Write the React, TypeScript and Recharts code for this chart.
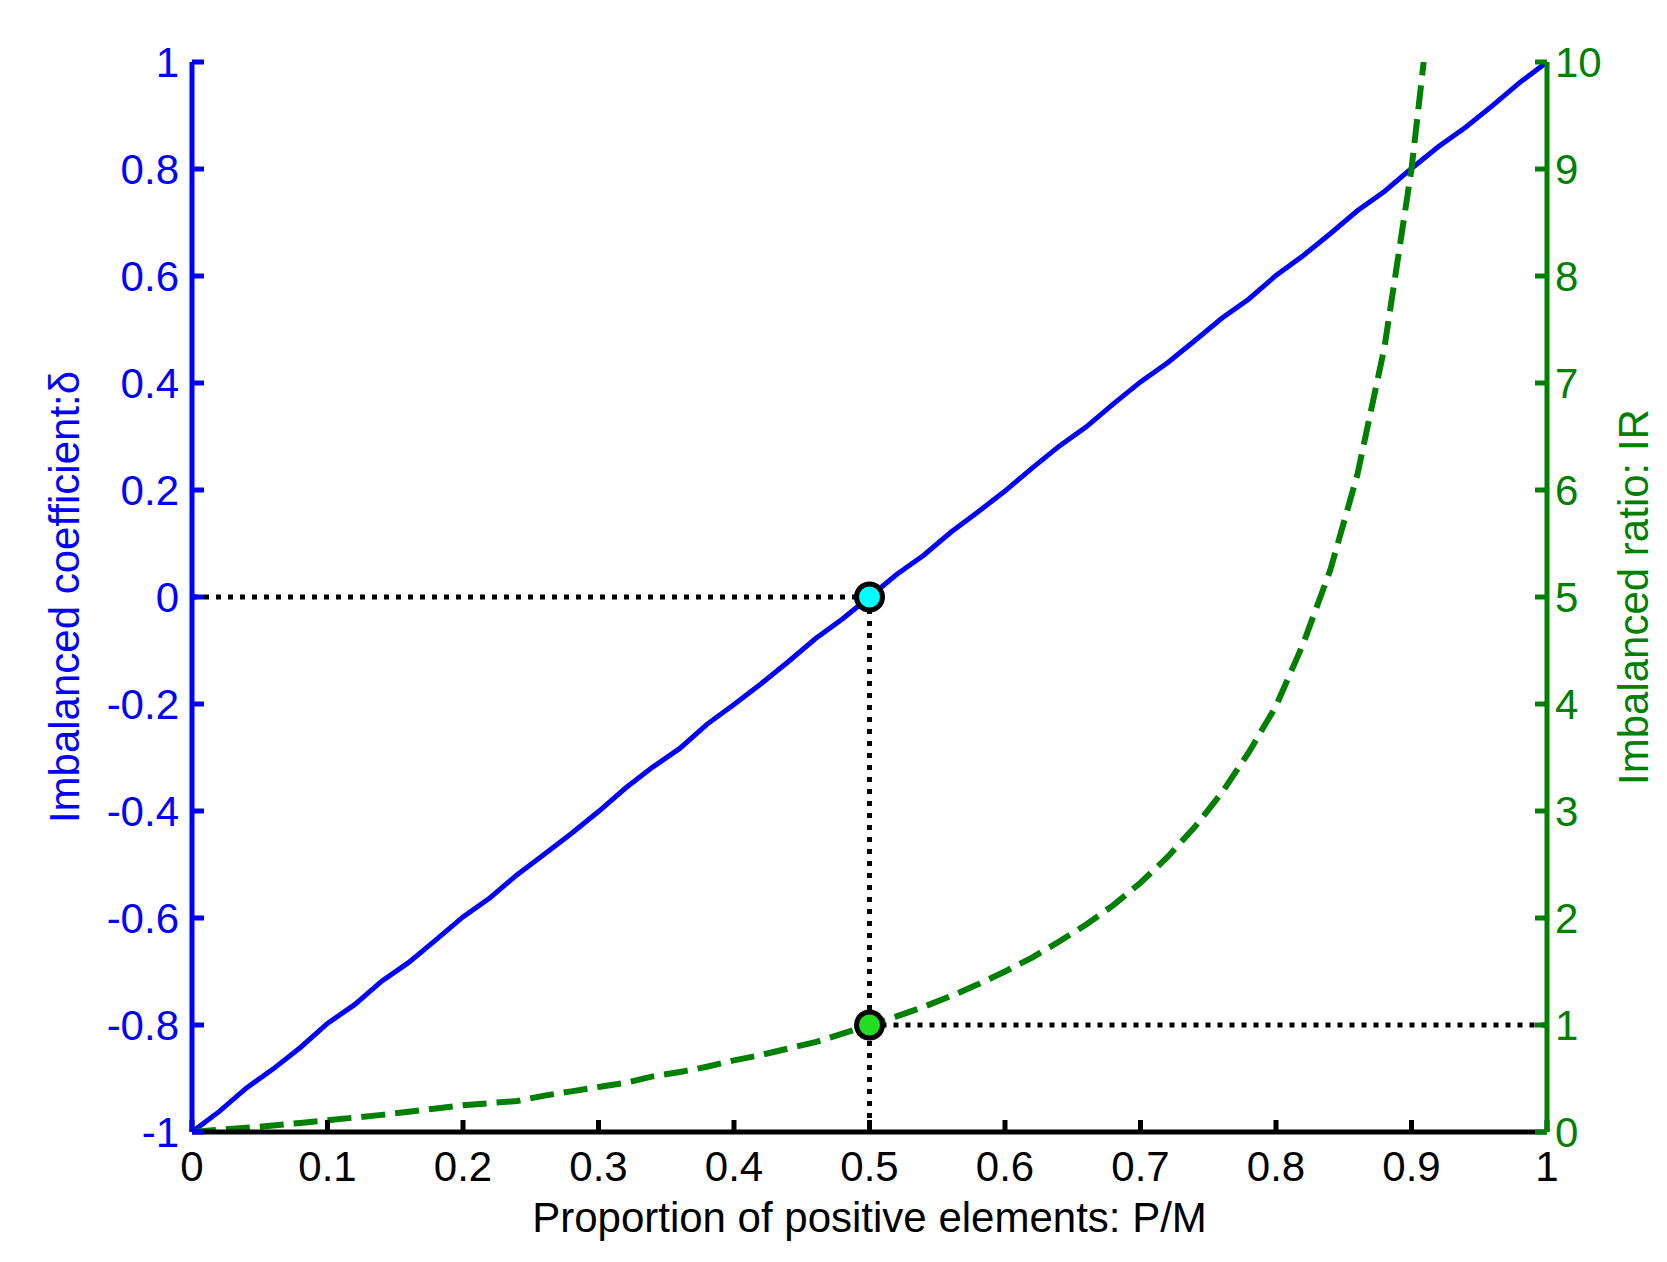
import React from 'react';
import {
  LineChart,
  Line,
  XAxis,
  YAxis,
  ReferenceLine,
  ReferenceDot,
  Label,
} from 'recharts';

// tick values
const xTicks = [0, 0.1, 0.2, 0.3, 0.4, 0.5, 0.6, 0.7, 0.8, 0.9, 1];
const deltaTicks = [-1, -0.8, -0.6, -0.4, -0.2, 0, 0.2, 0.4, 0.6, 0.8, 1];
const irTicks = [0, 1, 2, 3, 4, 5, 6, 7, 8, 9, 10];

// imbalanced coefficient (blue, left axis)
const deltaP = [
  0, 0.02, 0.04, 0.06, 0.08, 0.1, 0.12, 0.14, 0.16, 0.18, 0.2, 0.22, 0.24,
  0.26, 0.28, 0.3, 0.32, 0.34, 0.36, 0.38, 0.4, 0.42, 0.44, 0.46, 0.48, 0.5,
  0.52, 0.54, 0.56, 0.58, 0.6, 0.62, 0.64, 0.66, 0.68, 0.7, 0.72, 0.74, 0.76,
  0.78, 0.8, 0.82, 0.84, 0.86, 0.88, 0.9, 0.92, 0.94, 0.96, 0.98, 1,
];
const deltaValues = [
  -1, -0.962, -0.918, -0.882, -0.842, -0.797, -0.762, -0.718, -0.683, -0.641,
  -0.598, -0.562, -0.519, -0.481, -0.442, -0.401, -0.357, -0.318, -0.283,
  -0.238, -0.201, -0.162, -0.121, -0.078, -0.041, 0, 0.042, 0.078, 0.121,
  0.159, 0.198, 0.241, 0.282, 0.318, 0.361, 0.402, 0.438, 0.479, 0.521, 0.557,
  0.601, 0.638, 0.679, 0.722, 0.758, 0.801, 0.842, 0.878, 0.919, 0.962, 1,
];

// imbalanced ratio (green dashed, right axis)
const irP = [
  0, 0.02, 0.04, 0.06, 0.08, 0.1, 0.12, 0.14, 0.16, 0.18, 0.2, 0.22, 0.24,
  0.26, 0.28, 0.3, 0.32, 0.34, 0.36, 0.38, 0.4, 0.42, 0.44, 0.46, 0.48, 0.5,
  0.52, 0.54, 0.56, 0.58, 0.6, 0.62, 0.64, 0.66, 0.68, 0.7, 0.72, 0.74, 0.76,
  0.78, 0.8, 0.82, 0.84, 0.86, 0.88, 0.9, 0.909,
];
const irValues = [
  0, 0.02, 0.04, 0.06, 0.085, 0.11, 0.135, 0.16, 0.19, 0.22, 0.25, 0.27, 0.29,
  0.34, 0.38, 0.42, 0.46, 0.52, 0.56, 0.61, 0.67, 0.72, 0.78, 0.84, 0.92, 1,
  1.08, 1.17, 1.27, 1.38, 1.5, 1.63, 1.78, 1.94, 2.12, 2.33, 2.57, 2.85, 3.17,
  3.55, 3.98, 4.56, 5.25, 6.14, 7.33, 9, 10,
];

const deltaData = deltaP.map((p, i) => ({ p, delta: deltaValues[i] }));
const irData = irP.map((p, i) => ({ p, ir: irValues[i] }));

const BLUE = '#0000ff';
const GREEN = '#008000';
const FONT = 42;
const AXIS_W = 5;

const fmt = (v: number) => String(+v.toFixed(1));

const sideLabel = (text: string, color: string, dx: number) => (props: any) => {
  const { x, y, height } = props.viewBox;
  const cx = x + dx;
  const cy = y + height / 2;
  return (
    <text
      x={cx}
      y={cy}
      transform={`rotate(-90 ${cx} ${cy})`}
      textAnchor="middle"
      dominantBaseline="central"
      fill={color}
      fontSize={FONT}
    >
      {text}
    </text>
  );
};

const App: React.FC = () => {
  return (
    <div style={{ fontFamily: '"Liberation Sans", Arial, sans-serif' }}>
      <LineChart
        width={1651}
        height={1246}
        margin={{ top: 54, right: 22, bottom: 22, left: 34 }}
      >
        <XAxis
          dataKey="p"
          type="number"
          domain={[0, 1]}
          ticks={xTicks}
          tickFormatter={fmt}
          height={100}
          tickSize={-12}
          tickMargin={31}
          axisLine={{ stroke: '#000', strokeWidth: AXIS_W }}
          tickLine={{ stroke: '#000', strokeWidth: AXIS_W }}
          tick={{ fill: '#000', fontSize: FONT }}
          allowDataOverflow
        >
          <Label
            value="Proportion of positive elements: P/M"
            position="insideBottom"
            offset={0}
            fill="#000"
            fontSize={FONT}
          />
        </XAxis>
        <XAxis
          xAxisId="top"
          orientation="top"
          type="number"
          domain={[0, 1]}
          ticks={xTicks}
          tickFormatter={() => ''}
          height={0}
          tickSize={-12}
          axisLine={{ stroke: '#000', strokeWidth: AXIS_W }}
          tickLine={{ stroke: '#000', strokeWidth: AXIS_W }}
        />
        <YAxis
          yAxisId="left"
          type="number"
          domain={[-1, 1]}
          ticks={deltaTicks}
          tickFormatter={fmt}
          width={150}
          tickSize={-12}
          tickMargin={25}
          axisLine={{ stroke: BLUE, strokeWidth: AXIS_W }}
          tickLine={{ stroke: BLUE, strokeWidth: AXIS_W }}
          tick={{ fill: BLUE, fontSize: FONT }}
          allowDataOverflow
        >
          <Label content={sideLabel('Imbalanced coefficient:δ', BLUE, 22)} />
        </YAxis>
        <YAxis
          yAxisId="right"
          orientation="right"
          type="number"
          domain={[0, 10]}
          ticks={irTicks}
          width={90}
          tickSize={-12}
          tickMargin={20}
          axisLine={{ stroke: GREEN, strokeWidth: AXIS_W }}
          tickLine={{ stroke: GREEN, strokeWidth: AXIS_W }}
          tick={{ fill: GREEN, fontSize: FONT }}
          allowDataOverflow
        >
          <Label content={sideLabel('Imbalanced ratio: IR', GREEN, 86)} />
        </YAxis>

        <ReferenceLine
          yAxisId="left"
          segment={[{ x: 0, y: 0 }, { x: 0.5, y: 0 }]}
          stroke="#000"
          strokeWidth={5}
          strokeDasharray="5 7"
        />
        <ReferenceLine
          yAxisId="left"
          segment={[{ x: 0.5, y: 0 }, { x: 0.5, y: -1 }]}
          stroke="#000"
          strokeWidth={5}
          strokeDasharray="5 7"
        />
        <ReferenceLine
          yAxisId="right"
          segment={[{ x: 0.5, y: 1 }, { x: 1, y: 1 }]}
          stroke="#000"
          strokeWidth={5}
          strokeDasharray="5 7"
        />

        <Line
          yAxisId="left"
          data={deltaData}
          dataKey="delta"
          type="linear"
          stroke={BLUE}
          strokeWidth={5}
          dot={false}
          isAnimationActive={false}
        />
        <ReferenceDot
          yAxisId="right"
          x={0.5}
          y={1}
          r={13}
          fill="#22dd22"
          stroke="#000"
          strokeWidth={5}
        />
        <Line
          yAxisId="right"
          data={irData}
          dataKey="ir"
          type="linear"
          stroke={GREEN}
          strokeWidth={6}
          strokeDasharray="24 10"
          dot={false}
          isAnimationActive={false}
        />
        <ReferenceDot
          yAxisId="left"
          x={0.5}
          y={0}
          r={13}
          fill="#00ffff"
          stroke="#000"
          strokeWidth={5}
        />
      </LineChart>
    </div>
  );
};

export default App;
